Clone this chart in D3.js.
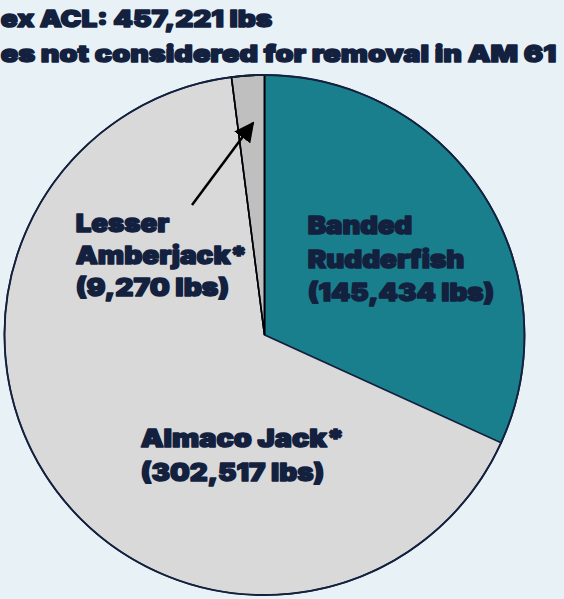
<!DOCTYPE html>
<html><head><meta charset="utf-8">
<script src="https://cdn.jsdelivr.net/npm/d3@7"></script>
<style>html,body{margin:0;padding:0;background:#e8f2f6;overflow:hidden}</style>
</head><body>
<svg id="c" width="564" height="599"></svg>
<script>
const categories = ["Banded Rudderfish", "Almaco Jack*", "Lesser Amberjack*"];
const values = [145434, 302517, 9270];
const colors = ["#1a7f8c", "#d9d9d9", "#bfbfbf"];
const labelLines = [
  ["Banded", "Rudderfish", "(145,434 lbs)"],
  ["Almaco Jack*", "(302,517 lbs)"],
  ["Lesser", "Amberjack*", "(9,270 lbs)"]
];
const titleLines = ["ex ACL: 457,221 lbs", "es not considered for removal in AM 61"];

const navy = "#13213f";
const font = "Inter, 'Noto Sans', sans-serif";
const svg = d3.select("#c");
svg.append("rect").attr("width", 564).attr("height", 599).attr("fill", "#e8f2f6");

const cx = 264.5, cy = 335, R = 260;
const pie = d3.pie().sort(null).value(d => d)(values);
const arc = d3.arc().innerRadius(0).outerRadius(R);
const g = svg.append("g").attr("transform", `translate(${cx},${cy})`);
g.selectAll("path.s").data(pie).join("path").attr("class", "s")
  .attr("d", arc).attr("fill", (d, i) => colors[i])
  .attr("stroke", navy).attr("stroke-width", 1.6);
g.append("path").attr("d", arc(pie[2])).attr("fill", "none").attr("stroke", "#000").attr("stroke-width", 1.6);
g.append("circle").attr("r", R).attr("fill", "none").attr("stroke", navy).attr("stroke-width", 1.8);

function addText(t, x, y, w, size) {
  svg.append("text").attr("x", x + 0.7).attr("y", y - 0.7)
    .attr("font-family", font).attr("font-weight", 900).attr("font-size", size)
    .attr("fill", navy).attr("stroke", navy).attr("stroke-width", 1.5)
    .attr("stroke-linejoin", "round")
    .attr("textLength", w - 1.4).attr("lengthAdjust", "spacingAndGlyphs")
    .text(t);
}

// title
titleLines.forEach((t, i) => addText(t, 0, [28, 63][i], [273, 557][i], 23.5));

// labels
const labelX = [307, 140, 75];
const labelY = [[235, 269, 302], [448, 482], [233, 265, 297]];
const labelW = [[106, 158, 188], [205, 185], [95, 173, 155]];
labelLines.forEach((lines, i) => {
  lines.forEach((t, j) => addText(t, labelX[i], labelY[i][j], labelW[i][j], 24.5));
});

// arrow
svg.append("defs").append("marker").attr("id", "ah").attr("viewBox", "0 0 10 10")
  .attr("refX", 9).attr("refY", 5).attr("markerWidth", 20).attr("markerHeight", 20)
  .attr("orient", "auto").attr("markerUnits", "userSpaceOnUse")
  .append("path").attr("d", "M0,0L10,5L0,10z").attr("fill", "#000");
svg.append("line").attr("x1", 192).attr("y1", 205).attr("x2", 253).attr("y2", 123)
  .attr("stroke", "#000").attr("stroke-width", 2.5).attr("marker-end", "url(#ah)");
</script>
</body></html>
